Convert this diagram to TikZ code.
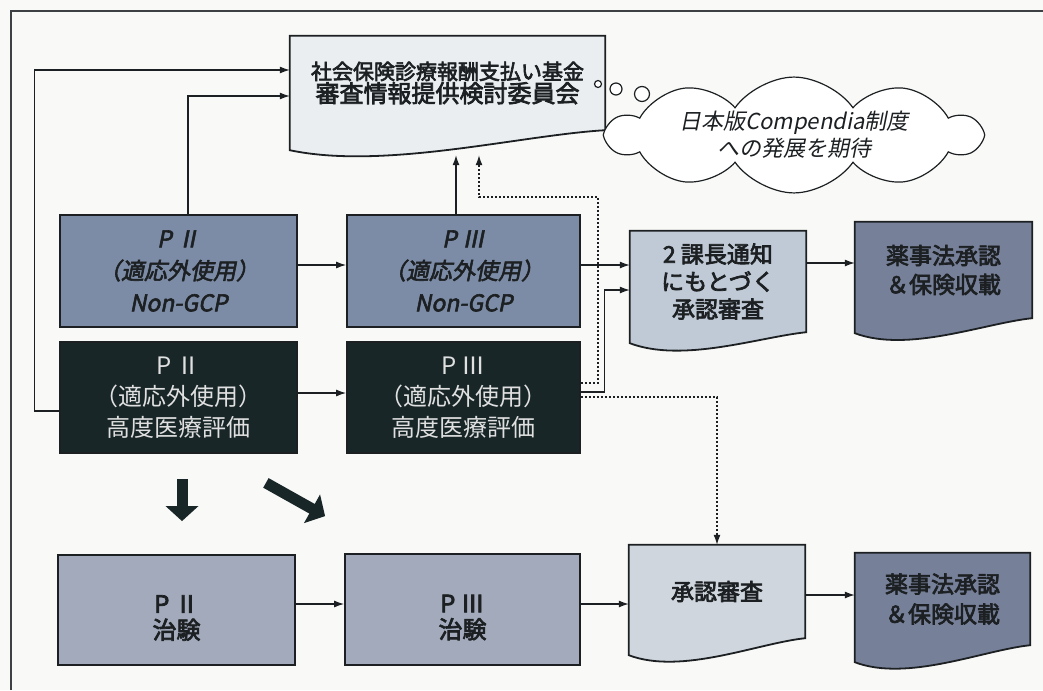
\documentclass[tikz,border=0pt]{standalone}
\usepackage{fontspec}
\newfontfamily\jp{Noto Sans CJK JP}
\newfontfamily\jpb[FakeBold=3]{Noto Sans CJK JP}
\newfontfamily\jpi[FakeSlant=0.2,FakeBold=2.5]{Noto Sans CJK JP}
\newfontfamily\jpil[FakeSlant=0.2]{Noto Sans CJK JP}
\usetikzlibrary{arrows.meta,calc,shapes.symbols}
\pgfdeclarelayer{paperlayer}
\pgfdeclarelayer{bg}
\pgfsetlayers{paperlayer,bg,main}
\definecolor{paper}{RGB}{249,249,247}
\definecolor{ngcp}{RGB}{125,140,166}
\definecolor{darkbox}{RGB}{24,38,40}
\definecolor{lightdoc}{RGB}{192,202,214}
\definecolor{approve}{RGB}{118,128,152}
\definecolor{trial}{RGB}{162,170,187}
\definecolor{reviewdoc}{RGB}{208,214,222}
\definecolor{topdoc}{RGB}{234,238,241}
\definecolor{ink}{RGB}{28,32,34}
\newcommand\wavydoc[3]{%
  \path[draw=ink, line width=1.8pt, fill=#3]
    (#1.north west) -- (#1.north east) -- (#1.south east)
    .. controls ($(#1.south east)!0.27!(#1.south west)+(0,5)$)
           and ($(#1.south west)!0.3!(#1.south east)+(0,#2+20)$)
    .. ($(#1.south west)+(0,#2)$) -- cycle;}
\begin{document}
\begin{tikzpicture}[x=1pt,y=-1pt,
  box/.style={draw=ink, line width=1.8pt, inner sep=0pt, align=center},
  docn/.style={inner sep=0pt, align=center, text=ink},
  conn/.style={draw=ink, line width=1.2pt, -{Latex[length=10pt,width=7pt]}},
  dotconn/.style={draw=ink, line width=1.3pt, dash pattern=on 2.2pt off 1.8pt, -{Latex[length=10pt,width=7pt]}},
  bigarrow/.style={draw=darkbox, line width=11pt, -{Triangle[width=32pt,length=15pt]}},
  bubble/.style={draw=ink, line width=1.2pt, fill=white},
  ngcpbox/.style={box, fill=ngcp, text=ink, font={\jpi\fontsize{23}{32}\selectfont}},
  darkbx/.style={box, fill=darkbox, text=white!88!black, font={\jp\fontsize{24}{31}\selectfont}},
  trialbox/.style={box, fill=trial},
  triallabel/.style={align=center, text=ink, yshift=-8pt, font={\jpb\fontsize{24}{26}\selectfont}},
  docfont/.style={font={\jpb\fontsize{23}{#1}\selectfont}}]
\begin{pgfonlayer}{paperlayer}
\fill[paper] (0,0) rectangle (1043,690);
\end{pgfonlayer}
\useasboundingbox (0,0) rectangle (1043,690);
\draw[draw=ink!85, line width=1.2pt] (11,690) -- (11,11) -- (1043,11);

% ---- document-like nodes (text only; shapes drawn on bg layer)
\node[docn, minimum width=315pt, minimum height=94pt] (top) at (447.5,83)
  {{\jpb\fontsize{21}{27}\selectfont 社会保険診療報酬支払い基金}\\
   {\jpb\fontsize{24}{27}\selectfont 審査情報提供検討委員会}};
\node[docn, docfont=27.5, minimum width=176pt, minimum height=101pt] (doc2) at (718,281.5)
  {2 課長通知\\にもとづく\\承認審査};
\node[docn, docfont=29, minimum width=177pt, minimum height=96pt] (rt) at (943.5,270)
  {薬事法承認\\＆保険収載};
\node[docn, docfont=28, minimum width=176pt, minimum height=93pt] (doc3) at (717,591.5)
  {承認審査};
\node[docn, docfont=30, minimum width=175pt, minimum height=92pt] (rb) at (942.5,599)
  {薬事法承認\\＆保険収載};

\begin{pgfonlayer}{bg}
  \wavydoc{top}{20}{topdoc}
  \wavydoc{doc2}{11}{lightdoc}
  \wavydoc{rt}{15}{approve}
  \wavydoc{doc3}{17}{reviewdoc}
  \wavydoc{rb}{17}{approve}
\end{pgfonlayer}

% ---- rectangular boxes
\node[ngcpbox, minimum width=237pt, minimum height=112pt] (p2n) at (178.5,271)
  {P Ⅱ\\（適応外使用）\\Non-GCP};
\node[ngcpbox, minimum width=233pt, minimum height=112pt] (p3n) at (463.5,271)
  {P Ⅲ\\（適応外使用）\\Non-GCP};
\node[darkbx, minimum width=237pt, minimum height=111pt] (p2d) at (178.5,397.5)
  {P Ⅱ\\（適応外使用）\\高度医療評価};
\node[darkbx, minimum width=233pt, minimum height=111pt] (p3d) at (463.5,397.5)
  {P Ⅲ\\（適応外使用）\\高度医療評価};
\node[trialbox, minimum width=237pt, minimum height=110pt,
  label={[triallabel]center:P Ⅱ\\治験}] (p2t) at (176.5,610) {};
\node[trialbox, minimum width=235pt, minimum height=111pt,
  label={[triallabel]center:P Ⅲ\\治験}] (p3t) at (462.5,609.5) {};

% ---- cloud and thought bubbles
\node[cloud, draw=ink, line width=1.2pt, fill=white, cloud puffs=10, cloud puff arc=110,
  cloud ignores aspect, minimum width=372pt, minimum height=98pt, align=center, inner sep=0pt,
  text=ink, font={\jpil\fontsize{22}{27}\selectfont}] (cl) at (794,135)
  {日本版Compendia制度\\への発展を期待};
\node[circle, bubble, minimum size=7pt, inner sep=0pt] (b1) at (598,84) {};
\node[circle, bubble, minimum size=12pt, inner sep=0pt] (b2) at (616,89) {};
\node[circle, bubble, minimum size=15pt, inner sep=0pt] (b3) at (642,94) {};

% ---- connectors
\draw[conn] ([yshift=-13.5pt]p2d.west) -| ([xshift=-255pt,yshift=13pt]top.west) -- ([yshift=13pt]top.west);
\draw[conn] ([xshift=9.5pt]p2n.north) |- ([yshift=-13pt]top.west);
\draw[conn, shorten >=25pt] ([xshift=-7.5pt]p3n.north) -- ([xshift=-7.5pt]p3n.north |- top.south);
\draw[dotconn, shorten >=25pt] ([yshift=14.5pt]p3d.east) -| ([xshift=17pt,yshift=17pt]p3n.north east)
   -| ([xshift=15.5pt]p3n.north |- top.south);
\draw[conn] ([yshift=5.5pt]p3d.east) -| ([xshift=-25pt,yshift=-8.5pt]doc2.west) -- ([yshift=-8.5pt]doc2.west);
\draw[conn] ([yshift=16.5pt]doc2.west -| p3n.east) -- ([yshift=16.5pt]doc2.west);
\draw[conn] ([yshift=6pt]p2n.east) -- ([yshift=6pt]p2n.east -| p3n.west);
\draw[conn] ([yshift=4.5pt]p2d.east) -- ([yshift=4.5pt]p2d.east -| p3d.west);
\draw[dotconn] ([yshift=0.5pt]p3d.east) -| (doc3.north);
\draw[conn] ([yshift=18.5pt]doc2.east) -- ([yshift=18.5pt]doc2.east -| rt.west);
\draw[conn] ([yshift=6pt]p2t.east) -- ([yshift=6pt]p2t.east -| p3t.west);
\draw[conn] ([yshift=5.5pt]p3t.east) -- ([yshift=5.5pt]p3t.east -| doc3.west);
\draw[conn] ([yshift=-3.5pt]doc3.east) -- ([yshift=-3.5pt]doc3.east -| rb.west);

% ---- big arrows
\draw[bigarrow] ([xshift=3.5pt,yshift=-25pt]p2d.south) -- ([xshift=5.5pt,yshift=33pt]p2t.north);
\draw[bigarrow] ([xshift=-32pt,yshift=-29pt]p2d.south east) -- ([xshift=-19pt,yshift=37pt]p3t.north west);
\end{tikzpicture}
\end{document}
